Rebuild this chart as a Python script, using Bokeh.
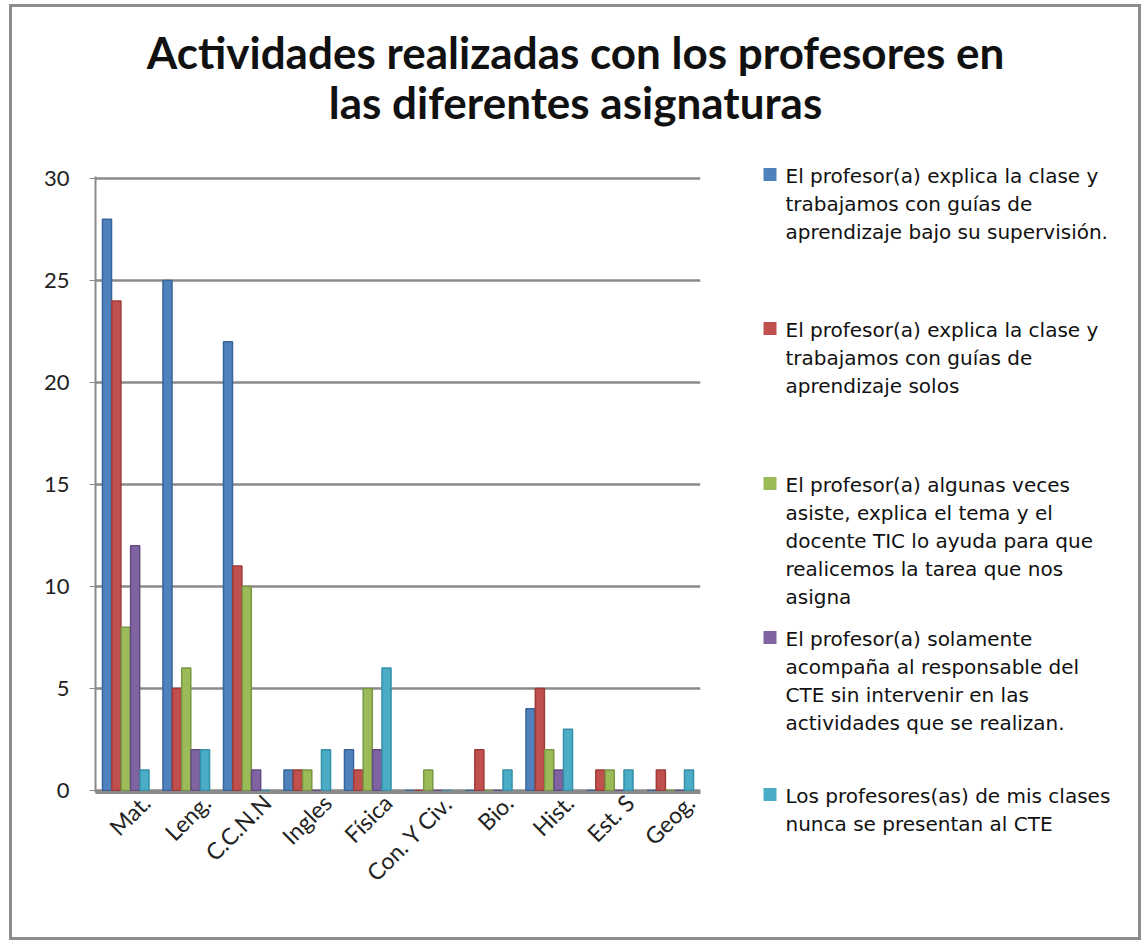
from math import pi
from bokeh.plotting import figure
from bokeh.layouts import column, row
from bokeh.models import (ColumnDataSource, Label, Range1d, LinearAxis, FixedTicker)
from bokeh.transform import dodge
from bokeh.embed import file_html
from bokeh.resources import INLINE

categories = ["Mat.", "Leng.", "C.C.N.N", "Ingles", "Física", "Con. Y Civ.", "Bio.", "Hist.", "Est. S", "Geog."]
s1 = [28, 25, 22, 1, 2, 0, 0, 4, 0, 0]
s2 = [24, 5, 11, 1, 1, 0, 2, 5, 1, 1]
s3 = [8, 6, 10, 1, 5, 1, 0, 2, 1, 0]
s4 = [12, 2, 1, 0, 2, 0, 0, 1, 0, 0]
s5 = [1, 2, 0, 2, 6, 0, 1, 3, 1, 1]
series_names = [
    "El profesor(a) explica la clase y\ntrabajamos con guías de\naprendizaje bajo su supervisión.",
    "El profesor(a) explica la clase y\ntrabajamos con guías de\naprendizaje solos",
    "El profesor(a) algunas veces\nasiste, explica el tema y el\ndocente TIC lo ayuda para que\nrealicemos la tarea que nos\nasigna",
    "El profesor(a) solamente\nacompaña al responsable del\nCTE sin intervenir en las\nactividades que se realizan.",
    "Los profesores(as) de mis clases\nnunca se presentan al CTE",
]
colors = ["#4F81BD", "#C0504D", "#9BBB59", "#8064A2", "#4BACC6"]
edges = ["#3A659A", "#9E3B38", "#7A9743", "#634C82", "#3690A8"]
y_ticks = [0, 5, 10, 15, 20, 25, 30]
title_lines = ["Actividades realizadas con los profesores en", "las diferentes asignaturas"]

FONT = "Lato"
LEG_FONT = "DejaVu Sans"
ORIGIN_X, ORIGIN_Y = 12, 7          # page position of layout content
TOTAL_W = 1126
TITLE_H = 153
MAIN_H = 777
MAIN_W = 718
LEG_W = TOTAL_W - MAIN_W


def blank(w, h):
    f = figure(width=w, height=h, x_range=Range1d(0, w), y_range=Range1d(0, h),
               min_border=0, output_backend="svg", toolbar_location=None)
    f.axis.visible = False
    f.grid.grid_line_color = None
    f.outline_line_color = None
    f.background_fill_color = "white"
    f.border_fill_color = "white"
    f.frame_align = False
    return f


# ---- title ----
t = blank(TOTAL_W, TITLE_H)
for k, line in enumerate(title_lines):
    page_y = 51 + 50 * k
    t.add_layout(Label(x=575 - ORIGIN_X, y=TITLE_H - (page_y - ORIGIN_Y), text=line,
                       text_align="center", text_baseline="middle",
                       text_font=FONT, text_font_style="bold", text_font_size="44px",
                       text_color="#111111"))

# ---- main chart ----
n = len(categories)
idx = list(range(n))
src = ColumnDataSource(dict(cat=categories, xi=idx, s1=s1, s2=s2, s3=s3, s4=s4, s5=s5))
p = figure(
    x_range=Range1d(-0.5, n - 0.5),
    y_range=Range1d(-0.1, 30.1),
    width=MAIN_W, height=MAIN_H,
    min_border_left=83, min_border_right=30, min_border_top=16, min_border_bottom=MAIN_H - 16 - 616,
    output_backend="svg", toolbar_location=None,
)
p.outline_line_color = None
p.background_fill_color = "white"
p.border_fill_color = "white"

offsets = [-0.31, -0.155, 0.0, 0.155, 0.31]
for i, key in enumerate(["s1", "s2", "s3", "s4", "s5"]):
    p.vbar(x=dodge("xi", offsets[i]), top=key, bottom=0, width=0.15,
           source=src, fill_color=colors[i], line_color=edges[i], line_width=1.5)

p.xgrid.grid_line_color = None
p.ygrid.grid_line_color = "#8a8a8a"
p.ygrid.grid_line_width = 2.5
p.yaxis.ticker = y_ticks
p.yaxis.axis_line_color = "#8a8a8a"
p.yaxis.axis_line_width = 2
p.yaxis.major_tick_line_color = "#8a8a8a"
p.yaxis.major_tick_out = 6
p.yaxis.major_tick_in = 0
p.yaxis.minor_tick_line_color = None
p.yaxis.major_label_text_font = FONT
p.yaxis.major_label_text_font_size = "22px"
p.yaxis.major_label_text_color = "#222222"
p.yaxis.major_label_standoff = 20

# category axis line (labels drawn by a shifted axis, like the original's rotated labels)
p.xaxis.ticker = FixedTicker(ticks=[])
p.xaxis.axis_line_color = "#8a8a8a"
p.xaxis.axis_line_width = 3
p.xaxis.major_tick_line_color = None
p.xaxis.minor_tick_line_color = None

shift = 20 / 60.5
p.extra_x_ranges = {"lab": Range1d(-0.5 - shift, n - 0.5 - shift)}
lab_axis = LinearAxis(x_range_name="lab",
                      ticker=FixedTicker(ticks=idx),
                      major_label_overrides={i: c for i, c in zip(idx, categories)})
lab_axis.axis_line_color = None
lab_axis.major_tick_line_color = None
lab_axis.minor_tick_line_color = None
lab_axis.major_label_orientation = pi / 4
lab_axis.major_label_text_font = FONT
lab_axis.major_label_text_font_size = "23px"
lab_axis.major_label_text_color = "#222222"
lab_axis.major_label_standoff = 0
p.add_layout(lab_axis, "below")

# ---- legend ----
lg = blank(LEG_W, MAIN_H)
leg_x0 = ORIGIN_X + MAIN_W
leg_y0 = ORIGIN_Y + TITLE_H
first_line = [175, 329, 484, 638, 795]   # page y of first text line of each entry
for i, name in enumerate(series_names):
    lg.scatter(x=[769.5 - leg_x0], y=[MAIN_H - (first_line[i] - 1 - leg_y0)], marker="square",
               size=13, fill_color=colors[i], line_color=None)
    for k, line in enumerate(name.split("\n")):
        page_y = first_line[i] + 28 * k
        lg.add_layout(Label(x=785 - leg_x0, y=MAIN_H - (page_y - leg_y0), text=line,
                            text_align="left", text_baseline="middle",
                            text_font=LEG_FONT, text_font_size="20px", text_color="#111111"))

layout = column(t, row(p, lg, spacing=0), spacing=0)
layout.styles = {"border": "3px solid #8c8c8c", "margin-left": "9px", "margin-top": "4px"}

open("out.html", "w").write(file_html(layout, INLINE))
